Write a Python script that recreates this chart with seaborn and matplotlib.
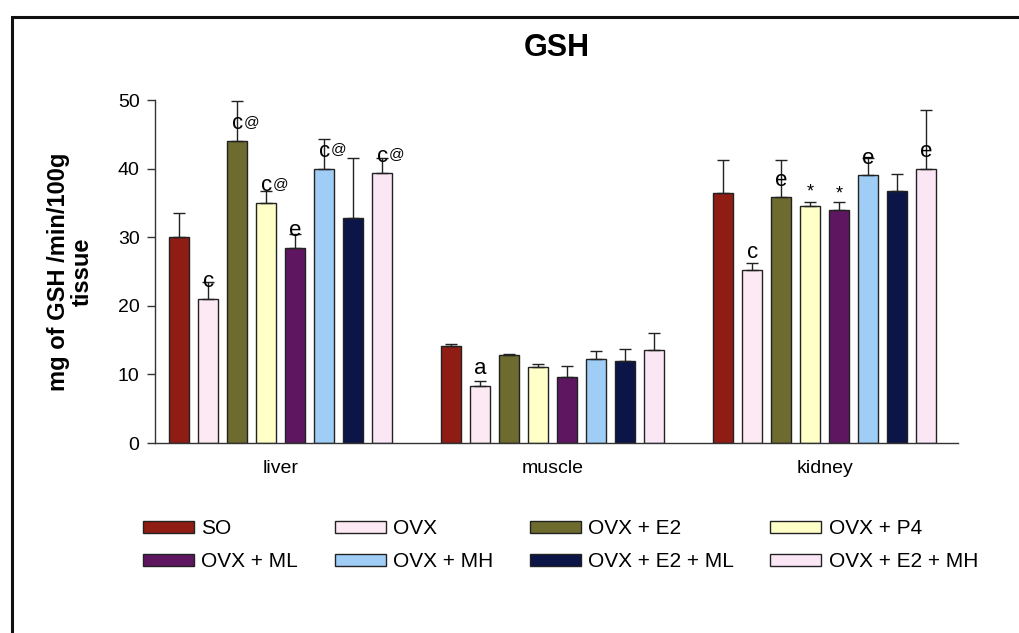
import pandas as pd
import numpy as np
import matplotlib.pyplot as plt
import matplotlib.patches as patches
import seaborn as sns

# --- data ---
tissues = ["liver", "muscle", "kidney"]
groups = ["SO", "OVX", "OVX + E2", "OVX + P4",
          "OVX + ML", "OVX + MH", "OVX + E2 + ML", "OVX + E2 + MH"]

liver_mean = [30.0, 21.0, 44.0, 35.0, 28.5, 40.0, 32.8, 39.3]
liver_sem = [3.5, 2.5, 5.8, 1.8, 2.0, 4.3, 8.7, 2.2]
muscle_mean = [14.2, 8.3, 12.9, 11.1, 9.6, 12.3, 11.9, 13.5]
muscle_sem = [0.2, 0.7, 0.1, 0.5, 1.6, 1.1, 1.8, 2.5]
kidney_mean = [36.5, 25.2, 35.8, 34.5, 34.0, 39.0, 36.8, 40.0]
kidney_sem = [4.7, 1.1, 5.4, 0.6, 1.2, 2.5, 2.4, 8.5]

liver_marks = ["", "c", "c@", "c@", "e", "c@", "", "c@"]
muscle_marks = ["", "a", "", "", "", "", "", ""]
kidney_marks = ["", "c", "e", "*", "*", "e", "", "e"]

colors = ["#8f1d14", "#fde9f4", "#6e6b2f", "#ffffc8",
          "#5e1660", "#9fcdf5", "#0b1547", "#fbe6f6"]

# --- long form table ---
rows = []
for t, means, sems, marks in zip(tissues,
                                 [liver_mean, muscle_mean, kidney_mean],
                                 [liver_sem, muscle_sem, kidney_sem],
                                 [liver_marks, muscle_marks, kidney_marks]):
    for g, m, s, k in zip(groups, means, sems, marks):
        rows.append({"tissue": t, "group": g, "value": m, "sem": s, "mark": k})
df = pd.DataFrame(rows)

sns.set_theme(style="white")
plt.rcParams["font.family"] = ["Liberation Sans", "DejaVu Sans"]
plt.rcParams["text.color"] = "black"
plt.rcParams["axes.labelcolor"] = "black"
plt.rcParams["xtick.color"] = "black"
plt.rcParams["ytick.color"] = "black"

fig = plt.figure(figsize=(10.19, 6.33), dpi=100)
ax = fig.add_axes([0.152, 0.300, 0.788, 0.542])

sns.barplot(data=df, x="tissue", y="value", hue="group", order=tissues,
            hue_order=groups, palette=colors, saturation=1, width=0.853,
            gap=0.3, errorbar=None, edgecolor="#222222", linewidth=1.0, ax=ax)

handles, labels = ax.get_legend_handles_labels()
if ax.get_legend() is not None:
    ax.get_legend().remove()

# error bars + significance letters, matched to bars by x position
bars = sorted([p for p in ax.patches if p.get_height() > 0],
              key=lambda p: p.get_x())
for bar, (_, r) in zip(bars, df.iterrows()):
    xc = bar.get_x() + bar.get_width() / 2
    ax.errorbar(xc, r["value"], yerr=[[0], [r["sem"]]], fmt="none",
                ecolor="#222222", elinewidth=1.0, capsize=4.5, capthick=1.0)
    mk = r["mark"]
    if mk:
        ytxt = min(r["value"] + r["sem"] + 0.3, r["value"] + 1.0)
        letter = mk.replace("@", "")
        fs = 13 if letter == "*" else 16
        ax.text(xc, ytxt, letter, ha="center", va="bottom", fontsize=fs)
        if "@" in mk:
            ax.annotate("@", (xc, ytxt), xytext=(5, 4),
                        textcoords="offset points", ha="left", va="bottom",
                        fontsize=11)

ax.set_xlim(-0.463, 2.49)
ax.set_ylim(0, 50)
ax.set_yticks([0, 10, 20, 30, 40, 50])
ax.tick_params(axis="y", direction="out", length=6, width=1, labelsize=14,
               left=True, color="#333333", pad=5)
ax.tick_params(axis="x", length=0, labelsize=14, pad=12)
for s in ["top", "right"]:
    ax.spines[s].set_visible(False)
for s in ["left", "bottom"]:
    ax.spines[s].set_color("#333333")
    ax.spines[s].set_linewidth(1.0)
ax.set_xlabel("")
ax.set_ylabel("mg of GSH /min/100g\ntissue", fontsize=17, fontweight="bold",
              linespacing=1.05, labelpad=17)

fig.text(0.546, 0.924, "GSH", ha="center", va="center", fontsize=22,
         fontweight="bold")

# legend filled row by row, like the original
order = [0, 4, 1, 5, 2, 6, 3, 7]
fig.legend([handles[i] for i in order], [labels[i] for i in order],
           loc="upper left", bbox_to_anchor=(0.122, 0.209),
           ncol=4, frameon=False, fontsize=15, handlelength=2.45,
           handleheight=0.5, handletextpad=0.35, columnspacing=1.75,
           labelspacing=0.66)

# outer frame of the original panel
frame = patches.Rectangle((12 / 1019, -0.1), 1.2, 0.1 + (1 - 17 / 633),
                          transform=fig.transFigure, fill=False,
                          edgecolor="#111111", linewidth=2.2)
fig.patches.append(frame)

fig.savefig("out.png", dpi=100)
